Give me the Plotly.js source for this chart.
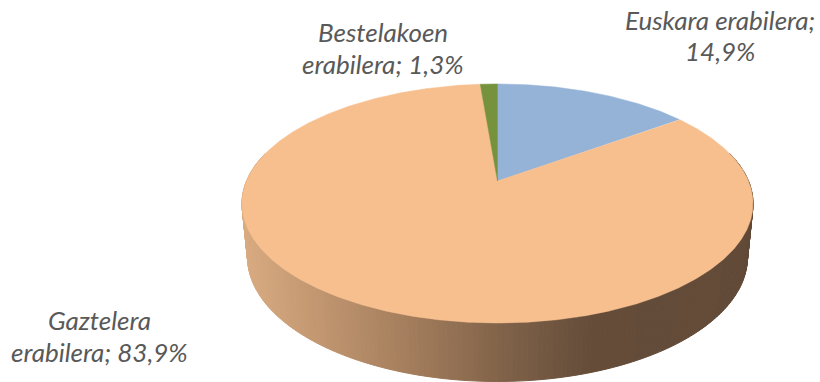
<!DOCTYPE html>
<html>
<head>
<meta charset="utf-8">
<script src="https://cdn.plot.ly/plotly-3.0.1.min.js"></script>
<style>html,body{margin:0;padding:0;background:#fff;overflow:hidden}#c{width:820px;height:382px}</style>
</head>
<body>
<div id="c"></div>
<script>
const categories = ["Euskara erabilera", "Gaztelera erabilera", "Bestelakoen erabilera"];
const values = [14.9, 83.9, 1.3];
const sliceColors = ["#95b3d7", "#f7bf8e", "#76923c"];
const labelLines = [
  ["Euskara erabilera;", "14,9%"],
  ["Gaztelera", "erabilera; 83,9%"],
  ["Bestelakoen", "erabilera; 1,3%"]
];
const labelX = [719.5, 99, 383];
const labelY = [[20, 51], [320, 352], [32, 64]];
const sideStops = [[243,[218,172,130]],[330,[190,148,110]],[420,[160,122,90]],[497,[130,100,74]],[590,[100,76,57]],[760,[98,74,56]]];

const cx = 497.5, k = 0.188;
function topPt(t){ const u=Math.sin(t), v=-Math.cos(t), w=1-k*v; return [cx+251*u/w, 181+115.3*v/w]; }
function botPt(t){ const u=Math.sin(t), v=-Math.cos(t), w=1-k*v; return [cx+245.5*u/w, 233.7+120*v/w]; }
function sideColor(x){
  if(x<=sideStops[0][0]) return 'rgb('+sideStops[0][1].join(',')+')';
  for(let i=1;i<sideStops.length;i++){
    if(x<=sideStops[i][0]){
      const a=sideStops[i-1], b=sideStops[i], f=(x-a[0])/(b[0]-a[0]);
      return 'rgb('+a[1].map((c,j)=>Math.round(c+(b[1][j]-c)*f)).join(',')+')';
    }
  }
  return 'rgb('+sideStops[sideStops.length-1][1].join(',')+')';
}
const traces = [];
// side wall: thin strips across the front half
const n = 220, a0 = Math.PI*0.42, a1 = Math.PI*1.58;
for(let i=0;i<n;i++){
  const t0=a0+(a1-a0)*i/n, t1=a0+(a1-a0)*(i+1)/n;
  const p=[topPt(t0),topPt(t1),botPt(t1),botPt(t0)];
  const col=sideColor((p[2][0]+p[3][0])/2);
  traces.push({type:'scatter',mode:'lines',x:p.map(q=>q[0]).concat(p[0][0]),y:p.map(q=>q[1]).concat(p[0][1]),
    fill:'toself',fillcolor:col,line:{color:col,width:1},hoverinfo:'skip',showlegend:false});
}
// top face: one wedge per value
const total = values.reduce((a,b)=>a+b,0);
let acc = 0;
values.forEach((val,i)=>{
  const s=acc/total*2*Math.PI, e=(acc+val)/total*2*Math.PI; acc+=val;
  const xs=[cx], ys=[181], m=Math.max(4,Math.ceil((e-s)/0.005));
  for(let j=0;j<=m;j++){ const p=topPt(s+(e-s)*j/m); xs.push(p[0]); ys.push(p[1]); }
  xs.push(cx); ys.push(181);
  traces.push({type:'scatter',mode:'lines',name:categories[i],x:xs,y:ys,fill:'toself',fillcolor:sliceColors[i],
    line:{color:sliceColors[i],width:0.5},hoverinfo:'skip',showlegend:false});
});
const annotations = [];
labelLines.forEach((lines,i)=>lines.forEach((line,j)=>annotations.push({
  x:labelX[i],y:labelY[i][j],xref:'x',yref:'y',text:'<i>'+line+'</i>',showarrow:false,align:'center',
  xanchor:'center',yanchor:'middle',font:{family:'Lato, "Open Sans", sans-serif',size:26,color:'#595959'}
})));
Plotly.newPlot('c',traces,{
  width:820,height:382,margin:{l:0,r:0,t:0,b:0},paper_bgcolor:'#fff',plot_bgcolor:'#fff',showlegend:false,
  xaxis:{range:[0,820],visible:false,fixedrange:true},
  yaxis:{range:[382,0],visible:false,fixedrange:true},
  annotations:annotations,hovermode:false
},{displayModeBar:false,staticPlot:true});
</script>
</body>
</html>
